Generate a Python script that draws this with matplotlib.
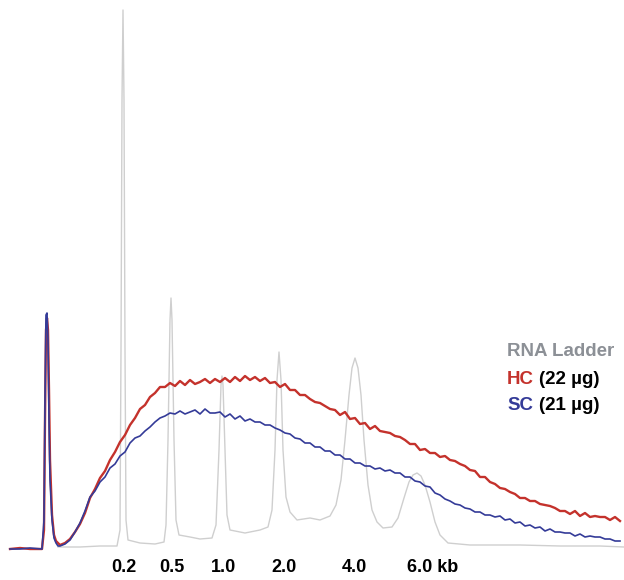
import matplotlib
matplotlib.use("Agg")
import matplotlib.pyplot as plt

plt.rcParams['font.family'] = ['Liberation Sans', 'DejaVu Sans']

# ---------------------
# Traces
# x = migration position, values = signal read from top (converted below)
# ---------------------
BASE = 550

ladder_x = [58, 80, 100, 117, 120, 121, 122, 123, 124, 125, 126, 128, 140, 155, 164, 166, 168, 170, 171,
            172, 174, 176, 179, 190, 200, 212, 216, 219, 221, 222, 223, 225, 227, 230, 245, 260, 268,
            272, 275, 277, 279, 281, 283, 286, 290, 297, 310, 320, 330, 336, 341, 345, 349, 352, 355,
            358, 361, 364, 368, 372, 377, 383, 392, 398, 404, 409, 413, 417, 421, 425, 430, 435, 440,
            448, 470, 520, 560, 600, 624]
ladder_raw = [547, 547, 546, 546, 530, 350, 100, 10, 100, 350, 520, 540, 543, 544, 542, 525, 440, 320, 298,
              320, 440, 520, 535, 537, 539, 538, 525, 450, 385, 376, 385, 450, 515, 530, 533, 530, 527,
              510, 450, 380, 352, 380, 450, 497, 512, 520, 518, 520, 516, 505, 480, 440, 395, 368, 358,
              368, 395, 440, 485, 510, 522, 528, 527, 518, 498, 482, 475, 473, 476, 485, 502, 522, 535,
              543, 545, 545, 546, 546, 547]

spike_x = [10, 20, 30, 42, 44, 45, 46, 47, 48, 49, 50, 52, 54, 56, 58]
hc_spike = [1, 2, 1, 1, 20, 130, 220, 232, 220, 160, 90, 35, 15, 9, 7]
sc_spike = [1, 1, 2, 1, 30, 150, 235, 237, 210, 130, 70, 30, 12, 7, 4]

hc_raw = [545, 543, 539, 532, 524, 513, 498, 489, 478, 471, 460, 452, 442, 435, 425, 418, 409, 405,
          397, 393, 387, 387, 383, 386, 381, 385, 380, 384, 382, 379, 383, 379, 382, 378, 382, 377,
          381, 376, 380, 377, 381, 378, 383, 382, 387, 384, 390, 390, 395, 395, 399, 402, 403, 406,
          409, 410, 415, 412, 419, 418, 424, 423, 429, 426, 431, 432, 433, 436, 437, 440, 444, 444,
          450, 449, 453, 453, 457, 456, 460, 461, 464, 466, 470, 471, 477, 477, 482, 484, 488, 489,
          492, 494, 498, 498, 501, 501, 504, 505, 506, 508, 511, 511, 514, 511, 516, 513, 517, 516,
          517, 517, 520, 517, 521]
sc_raw = [546, 544, 540, 532, 523, 511, 497, 491, 482, 477, 468, 464, 456, 452, 443, 438, 436, 431,
          427, 422, 418, 416, 413, 414, 411, 414, 412, 410, 414, 409, 413, 413, 412, 417, 414, 419,
          416, 421, 419, 422, 422, 425, 425, 428, 430, 433, 434, 438, 439, 443, 443, 447, 447, 451,
          451, 455, 455, 459, 459, 463, 463, 466, 466, 469, 468, 471, 470, 473, 473, 477, 477, 481,
          482, 486, 487, 493, 495, 499, 501, 504, 505, 508, 509, 512, 512, 515, 515, 517, 516, 520,
          519, 523, 522, 526, 525, 528, 527, 531, 529, 532, 532, 533, 533, 536, 534, 537, 536, 537,
          537, 539, 539, 541, 541]

x_main = list(range(60, 60 + 5 * len(hc_raw), 5))

ladder_y = [BASE - v for v in ladder_raw]
hc_x = spike_x + x_main
hc_y = hc_spike + [BASE - v for v in hc_raw]
sc_x = spike_x + x_main
sc_y = sc_spike + [BASE - v for v in sc_raw]

size_labels = ["0.2", "0.5", "1.0", "2.0", "4.0", "6.0 kb"]
size_pos = [124, 172, 224, 284, 354, 407]

RED = "#c4322c"
BLUE = "#343b98"
GRAY = "#cfcfcf"

fig = plt.figure(figsize=(6.24, 5.8), dpi=100)
ax = fig.add_axes([0, 0, 1, 1])
ax.plot(ladder_x, ladder_y, color=GRAY, lw=1.0)
ax.plot(hc_x, hc_y, color=RED, lw=1.7)
ax.plot(sc_x, sc_y, color=BLUE, lw=1.2)

ax.set_xlim(0, 624)
ax.set_ylim(-30, 550)
ax.axis("off")

for lab, xp in zip(size_labels, size_pos):
    ha = "left" if "kb" in lab else "center"
    ax.text(xp, -17, lab, ha=ha, va="center", fontsize=13, fontweight="bold", color="black")

# legend-like labels
ax.text(507, 198, "RNA Ladder", ha="left", va="center", fontsize=13.5, fontweight="bold", color="#8c9096")
ax.text(507, 170, "HC", ha="left", va="center", fontsize=13.5, fontweight="bold", color=RED)
ax.text(539, 170, "(22 µg)", ha="left", va="center", fontsize=13.5, fontweight="bold", color="black")
ax.text(507, 144, "SC", ha="left", va="center", fontsize=13.5, fontweight="bold", color=BLUE)
ax.text(539, 144, "(21 µg)", ha="left", va="center", fontsize=13.5, fontweight="bold", color="black")

fig.savefig("out.png", dpi=100)
